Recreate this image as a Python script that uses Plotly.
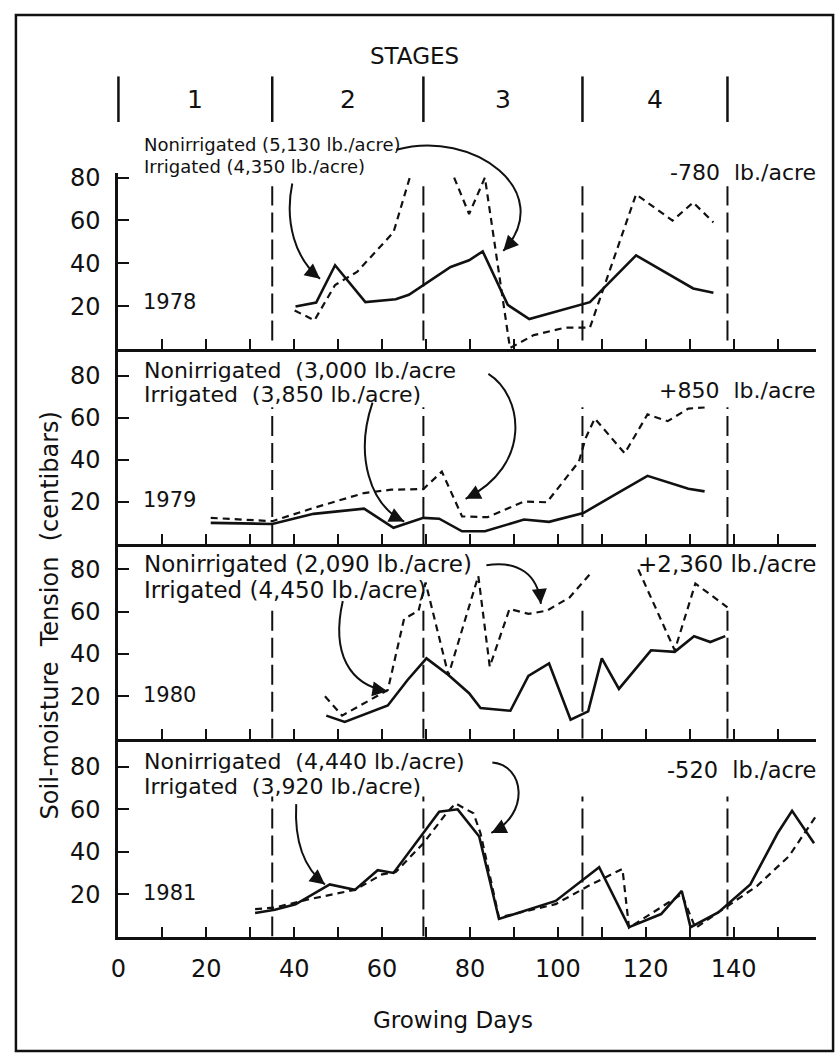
import math
import plotly.graph_objects as go

W, H = 840, 1057
FONT = "DejaVu Sans"
INK = "#111111"

# ---------------- data ----------------
years = ["1978", "1979", "1980", "1981"]

irr_days_1978 = [40.3, 45.0, 49.3, 56.2, 63.1, 66.1, 75.6, 79.8, 82.9, 88.6, 93.5, 107.3, 117.8, 130.8, 135.4]
irr_vals_1978 = [19.9, 21.7, 39.1, 21.9, 23.2, 25.3, 38.3, 41.4, 45.6, 20.6, 14.0, 21.9, 43.7, 28.3, 26.3]
non_days_1978 = [40.1, 44.6, 49.3, 54.3, 62.6, 66.3, None, 76.4, 79.8, 83.4, 89.1, 94.5, 101.6, 107.3, 117.8, 126.1, 130.8, 135.4]
non_vals_1978 = [18.0, 13.4, 29.9, 36.0, 54.5, 80.0, None, 80.0, 63.0, 80.0, 0.5, 6.5, 10.0, 10.0, 72.2, 59.9, 68.4, 59.1]

irr_days_1979 = [21.0, 35.0, 44.4, 55.9, 62.6, 69.4, 73.0, 78.2, 83.4, 92.3, 98.0, 105.8, 113.0, 120.4, 129.7, 133.4]
irr_vals_1979 = [10.0, 9.5, 14.3, 16.8, 7.7, 12.4, 12.0, 6.0, 6.0, 11.6, 10.5, 14.7, 23.4, 32.4, 26.2, 25.0]
non_days_1979 = [21.0, 35.0, 44.4, 55.9, 62.1, 69.4, 73.6, 78.2, 84.0, 92.3, 97.5, 104.8, 106.3, 108.4, 115.2, 120.4, 125.0, 129.7, 133.4]
non_vals_1979 = [12.4, 10.8, 17.1, 24.2, 25.8, 26.1, 34.4, 13.1, 12.7, 20.2, 19.8, 39.2, 50.2, 59.7, 43.1, 61.6, 58.4, 64.4, 64.9]

irr_days_1980 = [47.3, 51.5, 61.3, 65.8, 70.1, 75.1, 79.8, 82.4, 89.2, 93.3, 98.0, 102.9, 106.9, 110.0, 113.9, 121.2, 126.6, 131.0, 134.7, 138.1]
irr_vals_1980 = [10.9, 7.9, 15.7, 27.7, 37.9, 30.1, 21.5, 14.5, 13.2, 29.6, 35.5, 9.0, 12.9, 37.9, 23.5, 41.7, 41.0, 48.3, 45.6, 48.4]
non_days_1980 = [47.0, 50.9, 61.3, 65.0, 68.3, 69.9, 75.1, 81.9, 84.5, 89.0, 93.3, 97.5, 102.7, 107.9, None, 118.3, 126.6, 131.3, 138.6]
non_vals_1980 = [20.0, 10.9, 23.0, 56.5, 60.4, 73.7, 30.0, 76.8, 34.0, 61.2, 58.9, 60.4, 66.7, 79.1, None, 79.9, 41.7, 73.2, 62.0]

irr_days_1981 = [31.1, 35.6, 40.3, 48.1, 53.8, 59.0, 62.6, 69.4, 73.0, 77.2, 82.1, 86.6, 99.5, 109.4, 116.2, 123.5, 128.2, 130.2, 136.5, 143.8, 150.0, 153.3, 158.3]
irr_vals_1981 = [11.1, 12.6, 15.2, 24.6, 22.0, 31.3, 30.0, 48.7, 58.9, 60.0, 47.2, 8.3, 16.8, 32.7, 4.4, 10.6, 21.5, 4.4, 11.4, 24.6, 48.7, 59.3, 44.0]
non_days_1981 = [31.1, 35.6, 43.4, 53.8, 60.0, 63.1, 69.4, 74.6, 76.7, 80.8, 82.4, 86.6, 99.5, 106.9, 114.7, 116.2, 128.2, 131.3, 136.5, 145.3, 152.6, 158.9]
non_vals_1981 = [12.9, 13.7, 17.6, 22.0, 29.3, 30.4, 44.0, 58.1, 62.8, 58.1, 48.7, 9.0, 15.3, 23.8, 31.9, 4.2, 20.0, 4.0, 11.4, 23.8, 37.9, 57.3]

irrigated_days = [irr_days_1978, irr_days_1979, irr_days_1980, irr_days_1981]
irrigated_vals = [irr_vals_1978, irr_vals_1979, irr_vals_1980, irr_vals_1981]
nonirrigated_days = [non_days_1978, non_days_1979, non_days_1980, non_days_1981]
nonirrigated_vals = [non_vals_1978, non_vals_1979, non_vals_1980, non_vals_1981]

stage_bounds = [0, 35, 69.4, 105.6, 138.6]
stage_labels = ["1", "2", "3", "4"]

x_tick_vals = list(range(0, 151, 10))
x_tick_text = [str(v) if (v % 20 == 0 and v <= 140) else "" for v in x_tick_vals]
y_tick_vals = [20, 40, 60, 80]

nonirr_labels = ["Nonirrigated (5,130 lb./acre)", "Nonirrigated  (3,000 lb./acre",
                 "Nonirrigated (2,090 lb./acre)", "Nonirrigated  (4,440 lb./acre)"]
irr_labels = ["Irrigated (4,350 lb./acre)", "Irrigated  (3,850 lb./acre)",
              "Irrigated (4,450 lb./acre)", "Irrigated  (3,920 lb./acre)"]
diff_labels = ["-780  lb./acre", "+850  lb./acre", "+2,360 lb./acre", "-520  lb./acre"]

# ---------------- layout geometry (pixels) ----------------
X_LEFT, X_RIGHT = 111.5, 816.0
X_MAX = 158.8
# (bottom px, top px, y max)
panels = [(343.0, 165.7, 82.0), (539.5, 343.0, 92.7), (736.0, 539.5, 91.9), (935.5, 736.0, 93.3)]
stage_line_tops = [76, 65, 62, 66]
stage_line_bottoms = [4, 0, 0, 0]

def pxx(x):
    return x / W

def pxy(y):
    return 1 - y / H

def day_px(d):
    return X_LEFT + d / X_MAX * (X_RIGHT - X_LEFT)

def text_ann(text, x, y, size, xanchor="left", angle=0):
    return dict(text=text, x=pxx(x), y=pxy(y), xref="paper", yref="paper",
                xanchor=xanchor, yanchor="middle", showarrow=False, textangle=angle,
                borderpad=0, font=dict(size=size, family=FONT, color=INK))

fig = go.Figure()
layout = dict(
    width=W, height=H, margin=dict(l=0, r=0, t=0, b=0),
    paper_bgcolor="white", plot_bgcolor="white", showlegend=False,
    font=dict(family=FONT, color=INK),
)
shapes = []
annotations = []

for i in range(4):
    n = i + 1
    xa = "x" if n == 1 else f"x{n}"
    ya = "y" if n == 1 else f"y{n}"
    bottom, top, ymax = panels[i]
    fig.add_trace(go.Scatter(x=irrigated_days[i], y=irrigated_vals[i], mode="lines",
                             line=dict(color=INK, width=2.6), xaxis=xa, yaxis=ya,
                             connectgaps=False, name=f"Irrigated {years[i]}"))
    fig.add_trace(go.Scatter(x=nonirrigated_days[i], y=nonirrigated_vals[i], mode="lines",
                             line=dict(color=INK, width=2.2, dash="7px,5px"), xaxis=xa, yaxis=ya,
                             connectgaps=False, name=f"Nonirrigated {years[i]}"))
    layout["xaxis" if n == 1 else f"xaxis{n}"] = dict(
        domain=[pxx(X_LEFT), pxx(X_RIGHT)], range=[0, X_MAX], anchor=ya,
        showline=True, linecolor=INK, linewidth=3, showgrid=False, zeroline=False,
        ticks="inside", ticklen=10, tickwidth=2.2, tickcolor=INK,
        tickmode="array", tickvals=x_tick_vals, ticktext=x_tick_text,
        showticklabels=(n == 4), tickfont=dict(size=24, family=FONT, color=INK),
        ticklabelstandoff=9, fixedrange=True,
    )
    layout["yaxis" if n == 1 else f"yaxis{n}"] = dict(
        domain=[pxy(bottom), pxy(top)], range=[0, ymax], anchor=xa,
        showline=True, linecolor=INK, linewidth=3, showgrid=False, zeroline=False,
        ticks="inside", ticklen=11, tickwidth=2.2, tickcolor=INK,
        tickmode="array", tickvals=y_tick_vals,
        tickfont=dict(size=24, family=FONT, color=INK), ticklabelstandoff=10,
        fixedrange=True,
    )
    # stage boundaries within the panel
    for b in stage_bounds[1:]:
        shapes.append(dict(type="line", xref=xa, yref=ya, x0=b, x1=b,
                           y0=stage_line_bottoms[i], y1=stage_line_tops[i],
                           line=dict(color=INK, width=2, dash="20px,7px")))

# --- labels inside panels: (nonirr y, irr y, diff y, year y, text size, diff size)
label_rows = [
    (137, 159, 165, 296, 18, 22),
    (365, 389, 385, 495, 22, 22),
    (560, 586, 560, 692, 23, 23),
    (759, 784, 768, 892, 22, 22.5),
]
for i, (yn, yi, yd, yy, fs, fd) in enumerate(label_rows):
    annotations.append(text_ann(nonirr_labels[i], 136, yn, fs))
    annotations.append(text_ann(irr_labels[i], 136, yi, fs))
    annotations.append(text_ann(diff_labels[i], 817, yd, fd, xanchor="right"))
    annotations.append(text_ann(years[i], 135, yy, 21))

# --- curved pointer arrows (pixel layout)
arrows = [
    ((287, 176), (279, 215), (290, 252), (315, 272)),
    ((392, 142), (470, 120), (555, 185), (500, 244)),
    ((368, 397), (350, 450), (365, 500), (400, 517)),
    ((485, 368), (520, 390), (530, 460), (462, 494)),
    ((483, 561), (515, 556), (535, 570), (538, 600)),
    ((338, 597), (326, 650), (345, 682), (383, 688)),
    ((489, 760), (522, 763), (527, 812), (488, 831)),
    ((291, 802), (289, 840), (298, 866), (320, 883)),
]
for p0, c1, c2, p3 in arrows:
    path = "M {:.5f},{:.5f} C {:.5f},{:.5f} {:.5f},{:.5f} {:.5f},{:.5f}".format(
        pxx(p0[0]), pxy(p0[1]), pxx(c1[0]), pxy(c1[1]), pxx(c2[0]), pxy(c2[1]), pxx(p3[0]), pxy(p3[1]))
    shapes.append(dict(type="path", path=path, xref="paper", yref="paper",
                       line=dict(color=INK, width=2)))
    dx, dy = p3[0] - c2[0], p3[1] - c2[1]
    L = math.hypot(dx, dy)
    annotations.append(dict(text="", x=pxx(p3[0]), y=pxy(p3[1]), xref="paper", yref="paper",
                            showarrow=True, ax=-dx / L * 14, ay=-dy / L * 14,
                            arrowhead=2, arrowsize=1.5, arrowwidth=2, arrowcolor=INK))

# --- stage header
annotations.append(text_ann("STAGES", 410, 47, 23, xanchor="center"))
for b in stage_bounds:
    shapes.append(dict(type="line", xref="paper", yref="paper", x0=pxx(day_px(b)), x1=pxx(day_px(b)),
                       y0=pxy(68), y1=pxy(114), line=dict(color=INK, width=2.5)))
for k, lab in enumerate(stage_labels):
    mid = (stage_bounds[k] + stage_bounds[k + 1]) / 2
    annotations.append(text_ann(lab, day_px(mid), 91, 25, xanchor="center"))

# --- axis titles
annotations.append(text_ann("Growing Days", 449, 1020, 23, xanchor="center"))
annotations.append(text_ann("Soil-moisture  Tension  (centibars)", 42, 612, 24,
                            xanchor="center", angle=-90))

# --- frame
shapes.append(dict(type="rect", xref="paper", yref="paper", x0=pxx(8), x1=pxx(833),
                   y0=pxy(1051), y1=pxy(6), line=dict(color=INK, width=2.5)))

layout["shapes"] = shapes
layout["annotations"] = annotations
fig.update_layout(**layout)
fig.write_html("out.html")
